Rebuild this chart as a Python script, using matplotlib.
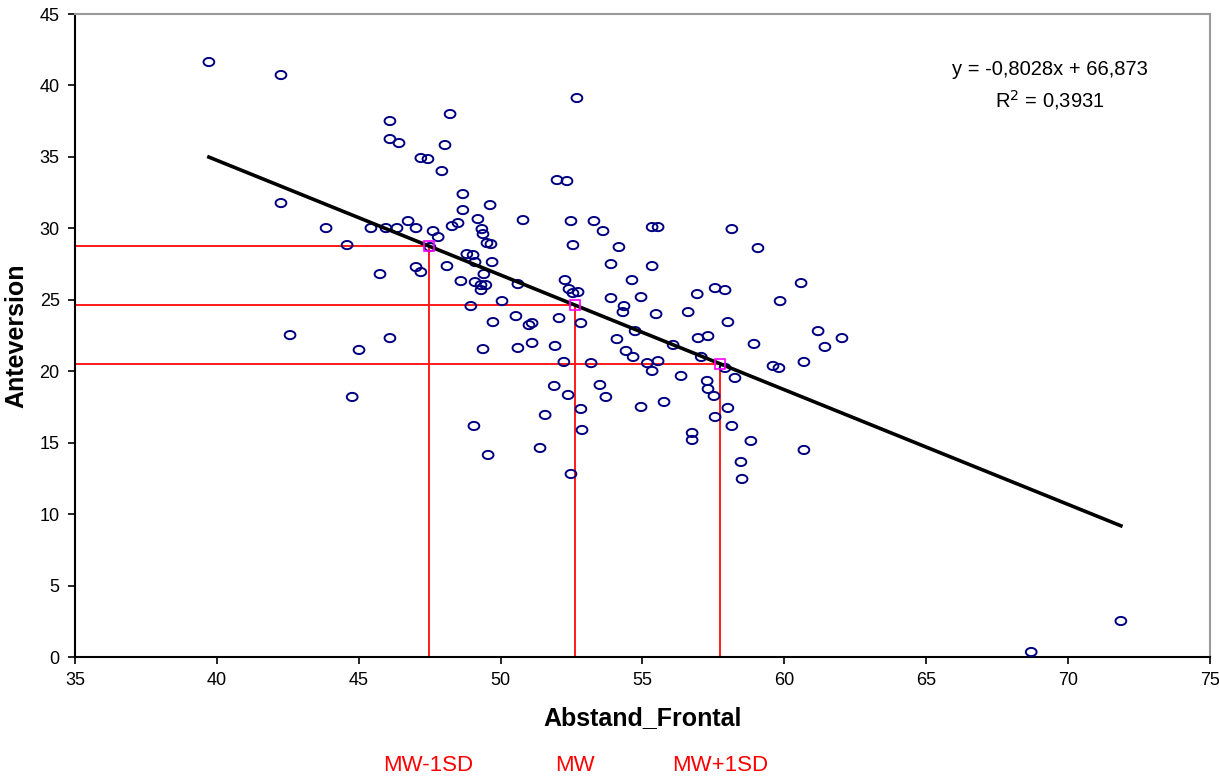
import numpy as np
import matplotlib.pyplot as plt
from matplotlib.path import Path

plt.rcParams['font.family'] = ['Liberation Sans', 'DejaVu Sans']

# Data
abstand_frontal = [
    39.72, 42.26, 42.26, 42.58, 43.85, 44.59, 44.77, 45.01, 45.43, 45.75,
    45.96, 46.10, 46.10, 46.10, 46.35, 46.42, 46.74, 47.02, 47.02, 47.19,
    47.19, 47.44, 47.51, 47.62, 47.80, 47.93, 48.04, 48.11, 48.22, 48.29,
    48.50, 48.60, 48.67, 48.67, 48.81, 48.95, 49.03, 49.06, 49.10, 49.10,
    49.20, 49.31, 49.31, 49.34, 49.38, 49.38, 49.41, 49.48, 49.52, 49.56,
    49.63, 49.66, 49.70, 49.73, 50.05, 50.54, 50.61, 50.61, 50.79, 51.00,
    51.11, 51.11, 51.39, 51.57, 51.89, 51.92, 51.99, 52.06, 52.23, 52.27,
    52.34, 52.38, 52.41, 52.48, 52.48, 52.55, 52.55, 52.73, 52.83, 52.83,
    52.69, 52.87, 53.19, 53.29, 53.50, 53.61, 53.71, 53.89, 53.89, 54.10,
    54.17, 54.31, 54.35, 54.42, 54.63, 54.67, 54.74, 54.95, 54.95, 55.17,
    55.34, 55.34, 55.34, 55.48, 55.55, 55.55, 55.76, 56.08, 56.36, 56.61,
    56.75, 56.75, 56.93, 56.96, 57.07, 57.28, 57.31, 57.31, 57.52, 57.56,
    57.56, 57.91, 57.91, 58.01, 58.01, 58.15, 58.15, 58.26, 58.47, 58.51,
    58.82, 58.93, 59.07, 59.60, 59.81, 59.85, 60.59, 60.69, 60.69, 61.19,
    61.43, 62.03, 68.70, 71.86,
]
anteversion = [
    41.64, 40.73, 31.77, 22.53, 30.02, 28.83, 18.20, 21.49, 30.02, 26.80,
    30.02, 37.51, 36.25, 22.32, 30.02, 35.97, 30.51, 27.29, 30.02, 34.92,
    26.94, 34.85, 28.69, 29.81, 29.39, 34.01, 35.83, 27.36, 38.00, 30.16,
    30.37, 26.31, 32.40, 31.28, 28.20, 24.56, 28.13, 16.17, 26.24, 27.64,
    30.65, 26.03, 25.68, 29.95, 29.60, 21.55, 26.80, 26.03, 28.97, 14.14,
    31.63, 28.90, 27.64, 23.44, 24.91, 23.86, 26.10, 21.63, 30.58, 23.23,
    23.37, 21.98, 14.63, 16.94, 18.97, 21.77, 33.38, 23.72, 20.65, 26.38,
    33.31, 18.34, 25.75, 30.51, 12.81, 28.83, 25.47, 25.54, 23.37, 17.36,
    39.12, 15.89, 20.57, 30.51, 19.04, 29.81, 18.20, 25.12, 27.50, 22.25,
    28.69, 24.14, 24.56, 21.42, 26.38, 21.00, 22.81, 17.50, 25.19, 20.57,
    20.02, 30.09, 27.36, 24.00, 30.09, 20.71, 17.85, 21.84, 19.67, 24.14,
    15.68, 15.19, 25.40, 22.32, 21.00, 19.32, 22.46, 18.76, 18.27, 25.82,
    16.80, 25.68, 20.23, 17.43, 23.44, 16.17, 29.95, 19.53, 13.65, 12.46,
    15.12, 21.91, 28.62, 20.37, 20.23, 24.91, 26.17, 20.65, 14.49, 22.81,
    21.70, 22.32, 0.35, 2.52,
]

slope = -0.8028
intercept = 66.873
r_squared = 0.3931

sd_labels = ['MW-1SD', 'MW', 'MW+1SD']
sd_x = [47.46, 52.62, 57.73]

x = np.array(abstand_frontal)
y = np.array(anteversion)

# ellipse-shaped open marker like the Excel one
t = np.linspace(0, 2 * np.pi, 40)
ellipse = Path(np.column_stack([np.cos(t), 0.76 * np.sin(t)]), closed=True)

fig = plt.figure(figsize=(12.19, 7.78), dpi=100)
ax = fig.add_axes([0.0615, 0.1555, 0.9311, 0.8265])

# reference lines for MW and +/- 1SD
for xv in sd_x:
    yv = slope * xv + intercept
    ax.plot([35, xv], [yv, yv], color='#ff1a1a', lw=1.4, zorder=2)
    ax.plot([xv, xv], [0, yv], color='#ff1a1a', lw=1.4, zorder=2)
    ax.plot(xv, yv, marker='s', ms=7, mfc='none', mec='#ff00ff', mew=1.2, zorder=4)

ax.scatter(x, y, marker=ellipse, s=60, facecolors='none', edgecolors='#000080',
           linewidths=1.4, zorder=3)

# trend line
xl = np.array([x.min(), x.max()])
ax.plot(xl, slope * xl + intercept, color='black', lw=2.6, zorder=3)

eq = 'y = {}x + {}'.format(str(slope).replace('.', ','), str(intercept).replace('.', ','))
ax.text(69.36, 41.1, eq, ha='center', va='center', fontsize=14.5)
ax.text(69.36, 39.0, 'R$^2$ = ' + str(r_squared).replace('.', ','), ha='center', va='center',
        fontsize=14.5)

ax.set_xlim(35, 75)
ax.set_ylim(0, 45)
ax.set_xticks(np.arange(35, 76, 5))
ax.set_yticks(np.arange(0, 46, 5))
ax.tick_params(direction='out', length=5, width=1.2, labelsize=13, pad=6)

for s in ['left', 'bottom']:
    ax.spines[s].set_color('black')
    ax.spines[s].set_linewidth(1.5)
for s in ['top', 'right']:
    ax.spines[s].set_color('#999999')
    ax.spines[s].set_linewidth(1.5)

ax.set_xlabel('Abstand_Frontal', fontsize=18, fontweight='bold', labelpad=12)
ax.set_ylabel('Anteversion', fontsize=18, fontweight='bold', labelpad=8)

for lab, xv in zip(sd_labels, sd_x):
    ax.text(xv, -0.168, lab, transform=ax.get_xaxis_transform(), ha='center', va='center',
            color='red', fontsize=16)

fig.savefig('out.png', dpi=100)
